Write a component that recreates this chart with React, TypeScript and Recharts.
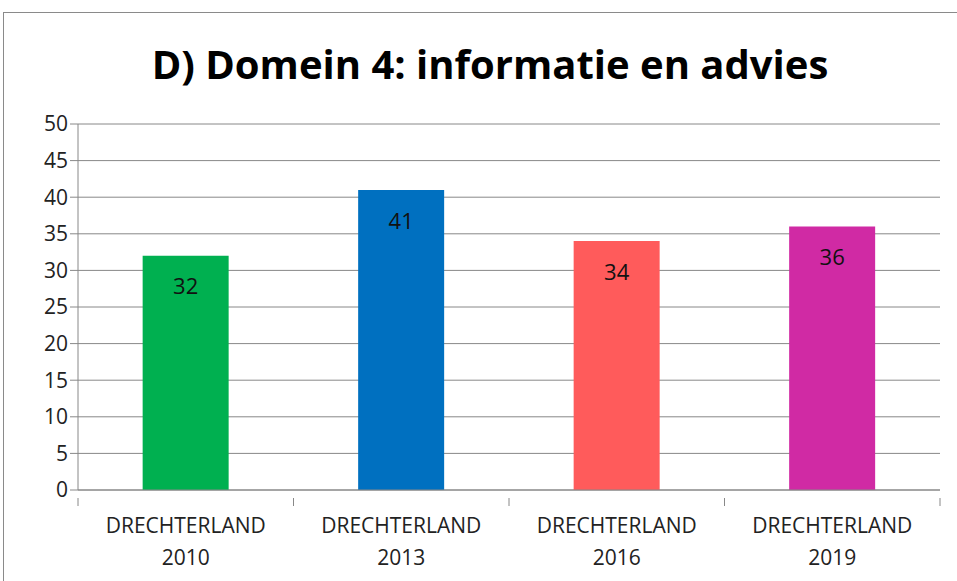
import { BarChart, Bar, XAxis, YAxis, CartesianGrid, LabelList, Cell } from 'recharts';

const YEARS = ['2010', '2013', '2016', '2019'];
const SCORES = [32, 41, 34, 36];
const COLORS = ['#00B050', '#0070C0', '#FF5B5B', '#D02AA4'];
const Y_TICKS = [0, 5, 10, 15, 20, 25, 30, 35, 40, 45, 50];

const data = YEARS.map((y, i) => ({ name: 'DRECHTERLAND', year: y, value: SCORES[i] }));

const FONT = 'Open Sans, "Noto Sans", sans-serif';
const AXIS_GREY = '#888888';

function CategoryTick({ x, y, payload, width, index }: any) {
  const half = width / (YEARS.length * 2);
  const d = data[payload.index ?? index];
  return (
    <g>
      <line x1={x - half} x2={x - half} y1={y - 8} y2={y} stroke={AXIS_GREY} />
      {index === YEARS.length - 1 && <line x1={x + half} x2={x + half} y1={y - 8} y2={y} stroke={AXIS_GREY} />}
      <text x={x} y={y + 27} textAnchor="middle" fontSize={21} fill="#222" fontFamily={FONT}>{d.name}</text>
      <text x={x} y={y + 59} textAnchor="middle" fontSize={21} fill="#222" fontFamily={FONT}>{d.year}</text>
    </g>
  );
}

export default function App() {
  return (
    <div style={{ position: 'fixed', left: 0, top: 0, width: 957, height: 581, background: '#fff', overflow: 'hidden' }}>
      <div style={{ position: 'absolute', left: 3, top: 12, width: 1000, height: 600, borderTop: '1.5px solid #8a8a8a', borderLeft: '1.5px solid #8a8a8a' }} />
      <div style={{ position: 'absolute', left: 0, top: 36, width: 980, textAlign: 'center', fontFamily: FONT, fontWeight: 700, fontSize: 40, color: '#000' }}>
        D) Domein 4: informatie en advies
      </div>
      <div style={{ position: 'absolute', left: 0, top: 0 }}>
        <BarChart width={957} height={581} data={data} margin={{ top: 124, right: 17, left: 8, bottom: 0 }} barCategoryGap="30%">
          <CartesianGrid vertical={false} stroke={AXIS_GREY} />
          <XAxis dataKey="year" interval={0} axisLine={{ stroke: AXIS_GREY }} tickLine={false} height={91}
            tick={(p: any) => <CategoryTick {...p} y={p.y + 8} />} />
          <YAxis domain={[0, 50]} ticks={Y_TICKS} width={70} axisLine={{ stroke: AXIS_GREY }} tickLine={{ stroke: AXIS_GREY }} tickSize={8}
            tick={{ fill: '#222', fontSize: 21, fontFamily: FONT }} interval={0} />
          <Bar dataKey="value" isAnimationActive={false}>
            {data.map((_, i) => <Cell key={i} fill={COLORS[i]} />)}
            <LabelList dataKey="value" position="insideTop" offset={23} fill="#111" fontSize={22} fontFamily={FONT} />
          </Bar>
        </BarChart>
      </div>
    </div>
  );
}
